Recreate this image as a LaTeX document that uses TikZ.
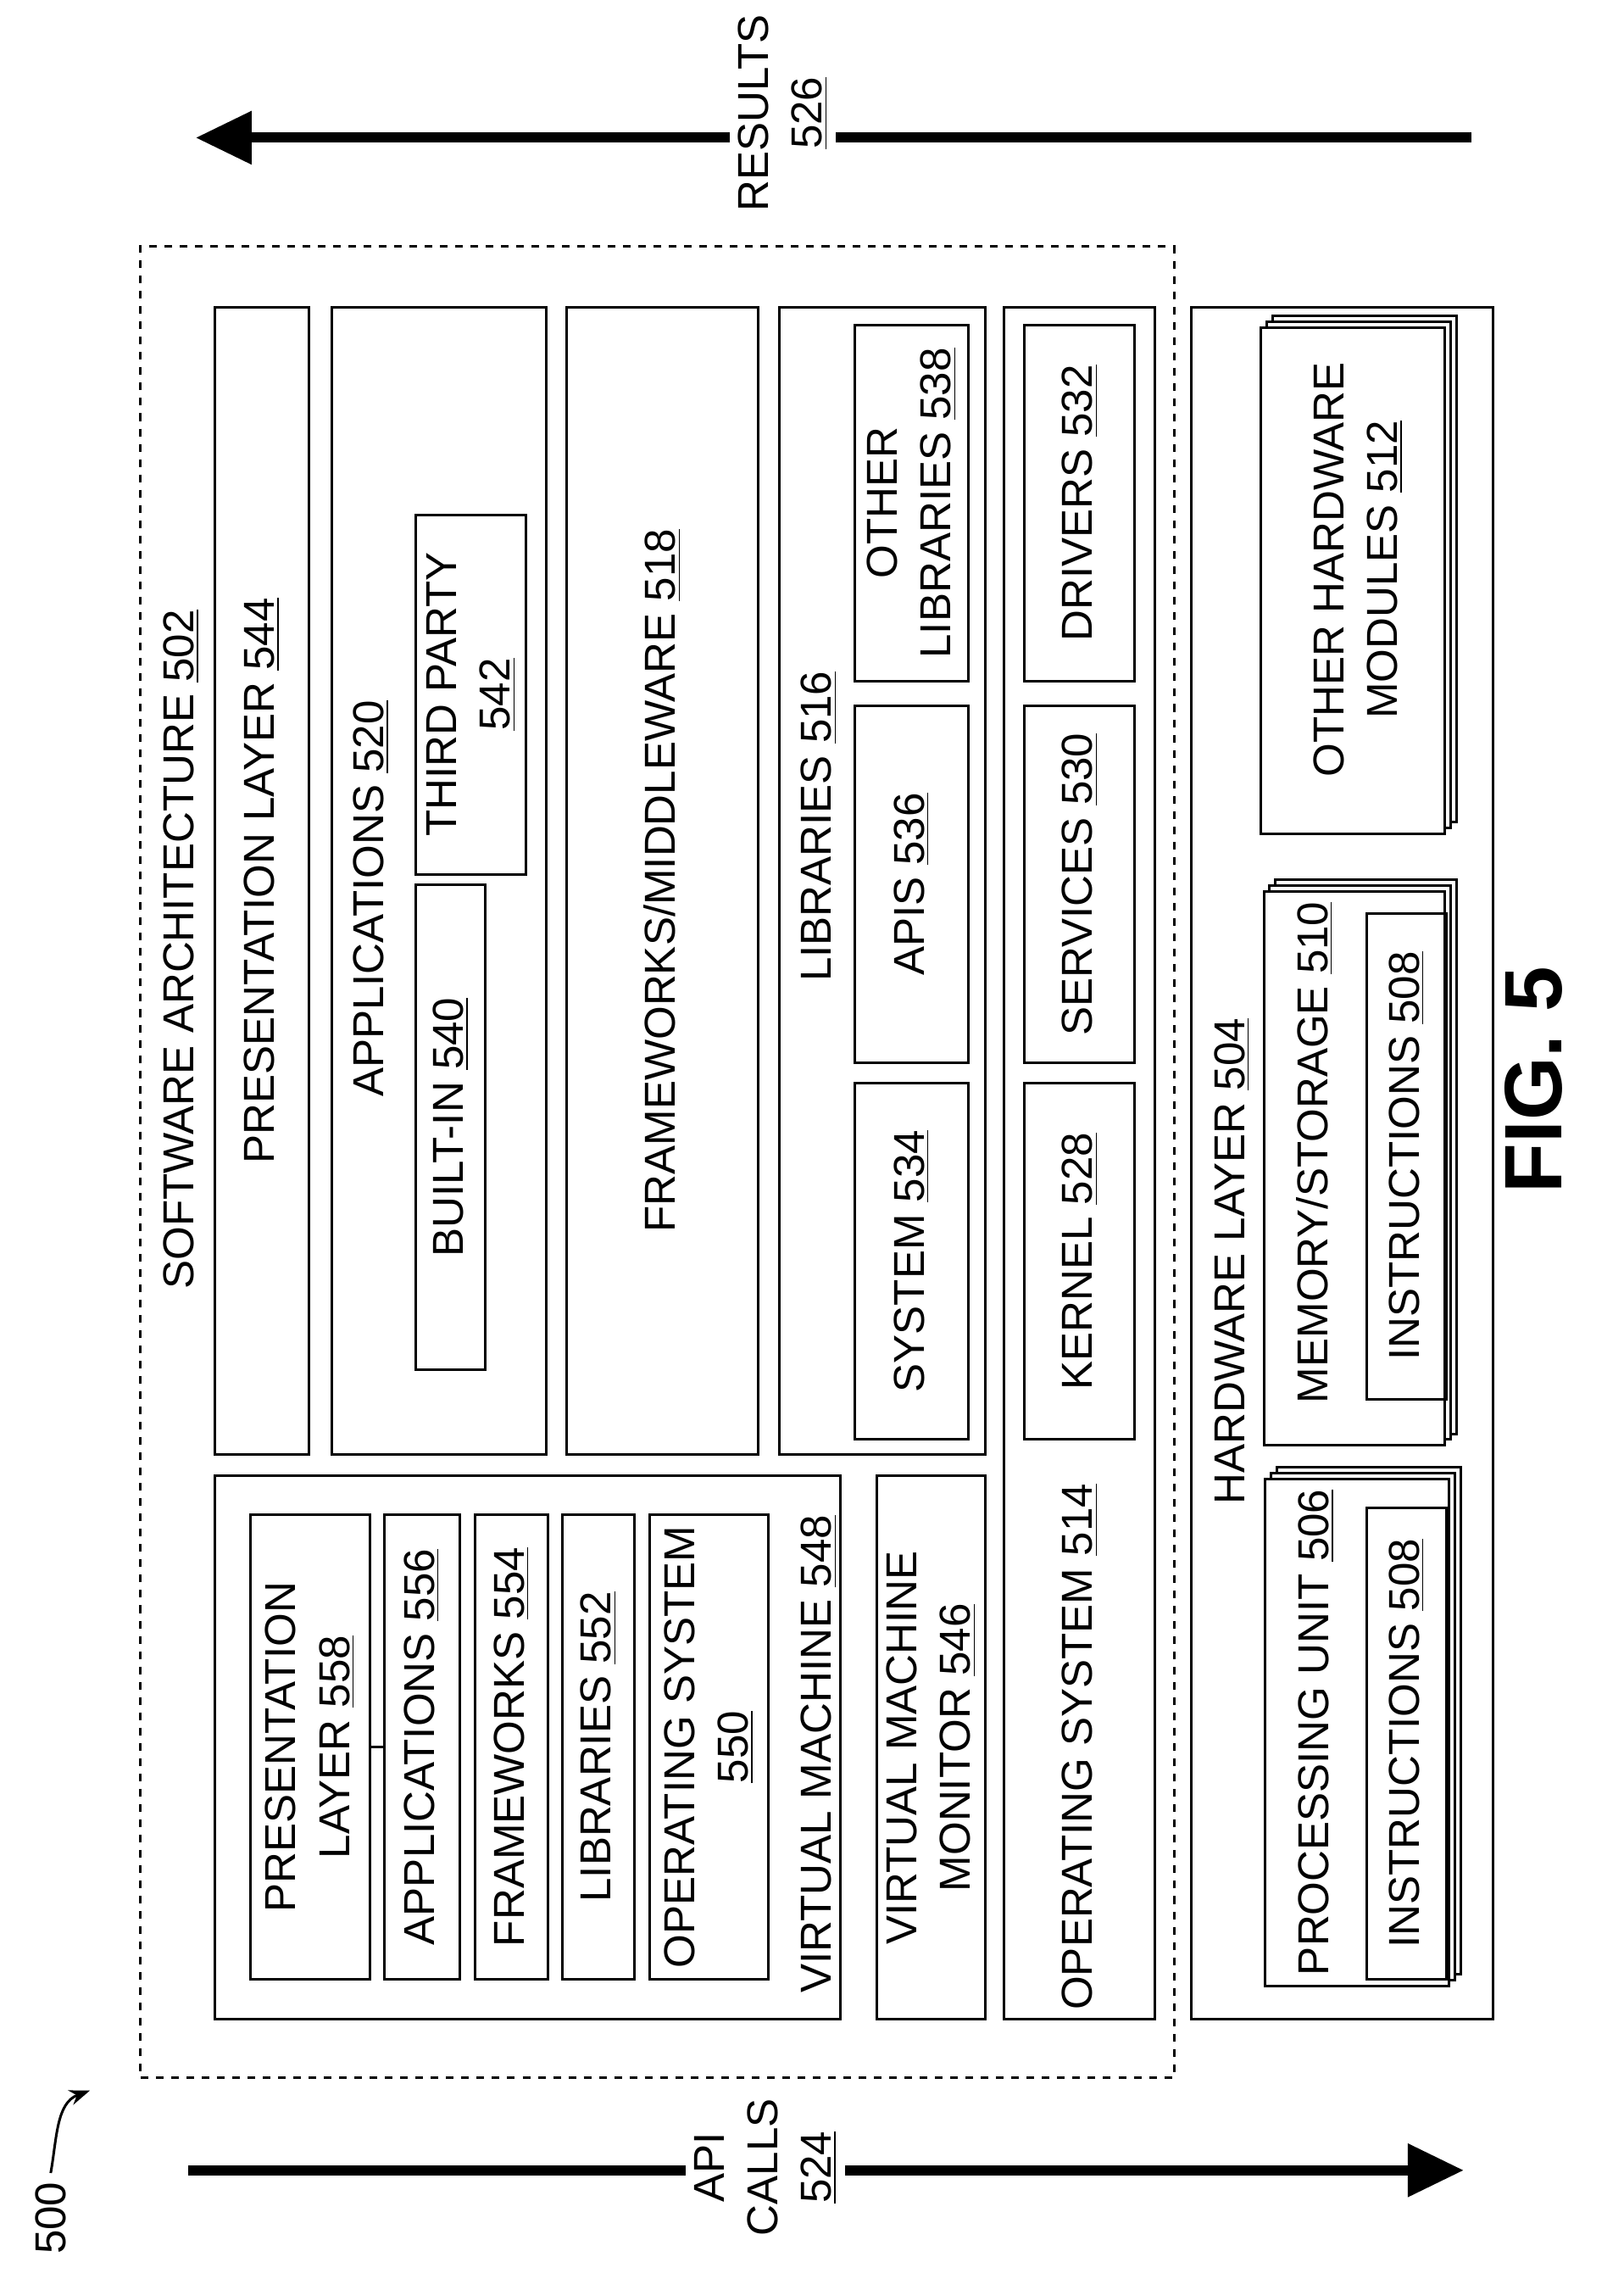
\documentclass[tikz,border=0pt]{standalone}
\usepackage{fontspec}
\setmainfont{Liberation Sans}
\usetikzlibrary{fit,arrows.meta}
\tikzset{
  box/.style={draw, line width=1pt, inner sep=0pt},
  lbl/.style={rotate=90, align=center, font=\fontsize{17}{21}\selectfont},
  stack/.style={draw, line width=1pt, fill=white},
  bigarrow/.style={line width=4pt, -{Triangle[length=22pt,width=20pt]}}
}
\newcommand{\blk}[4][]{\node[box,#1,fit={(#3)(#4)}] (#2) {};}
\newcommand{\ul}[1]{\underline{#1}}
\begin{document}
\begin{tikzpicture}[x=0.02cm,y=-0.02cm]
\useasboundingbox (0,0) rectangle (1120,1572);
% arrows
\coordinate (resR) at (1015,95); \coordinate (resL) at (135,95);
\draw[bigarrow] (resR) -- (resL);
\node[lbl,fill=white,inner xsep=6pt] (results) at (540,78) {RESULTS\\\ul{526}};
\coordinate (apiL) at (130,1497); \coordinate (apiR) at (1010,1497);
\draw[bigarrow] (apiL) -- (apiR);
\node[lbl,fill=white,inner xsep=6pt] (api) at (528,1495) {API\\CALLS\\\ul{524}};
\node[lbl] (fig500) at (35,1530) {500};
\coordinate (tip500) at (62,1442);
\draw[line width=1pt,-{Stealth[length=8pt]}] (fig500.east) to[out=80,in=200] (tip500);
% software architecture
\blk[dashed]{sa}{97,170}{810,1433}
\node[lbl] (salbl) at (125,655) {SOFTWARE ARCHITECTURE \ul{502}};
\blk{pl}{148,212}{213,1003}
\node[lbl] at (pl) {PRESENTATION LAYER \ul{544}};
\blk{app}{229,212}{377,1003}
\node[lbl] at (256,620) {APPLICATIONS \ul{520}};
\blk{bi}{287,610}{335,945}
\node[lbl] at (bi) {BUILT-IN \ul{540}};
\blk{tp}{287,355}{363,603}
\node[lbl] at (tp) {THIRD PARTY\\\ul{542}};
\blk{fw}{391,212}{523,1003}
\node[lbl] at (fw) {FRAMEWORKS/MIDDLEWARE \ul{518}};
\blk{lib}{538,212}{680,1003}
\node[lbl] at (565,570) {LIBRARIES \ul{516}};
\blk{sys}{590,747}{668,993}
\node[lbl] at (sys) {SYSTEM \ul{534}};
\blk{apis}{590,487}{668,733}
\node[lbl] at (apis) {APIS \ul{536}};
\blk{olib}{590,224}{668,470}
\node[lbl] at (olib) {OTHER\\LIBRARIES \ul{538}};
\blk{os}{693,212}{797,1393}
\node[lbl] at (745,1205) {OPERATING SYSTEM \ul{514}};
\blk{ker}{707,747}{783,993}
\node[lbl] at (ker) {KERNEL \ul{528}};
\blk{srv}{707,487}{783,733}
\node[lbl] at (srv) {SERVICES \ul{530}};
\blk{drv}{707,224}{783,470}
\node[lbl] at (drv) {DRIVERS \ul{532}};
% virtual machine
\blk{vm}{148,1018}{580,1393}
\node[lbl] at (565,1210) {VIRTUAL MACHINE \ul{548}};
\blk{vpl}{173,1045}{255,1365}
\node[lbl] at (vpl) {PRESENTATION\\LAYER \ul{558}};
\blk{vapp}{265,1045}{317,1365}
\node[lbl] at (vapp) {APPLICATIONS \ul{556}};
\blk{vfw}{328,1045}{378,1365}
\node[lbl] at (vfw) {FRAMEWORKS \ul{554}};
\blk{vlib}{388,1045}{438,1365}
\node[lbl] at (vlib) {LIBRARIES \ul{552}};
\blk{vos}{448,1045}{530,1365}
\node[lbl] at (vos) {OPERATING SYSTEM\\\ul{550}};
\draw[line width=1pt] (vpl.east) -- (vapp.west);
\blk{vmm}{605,1018}{680,1393}
\node[lbl] at (vmm) {VIRTUAL MACHINE\\MONITOR \ul{546}};
% hardware
\blk{hw}{822,212}{1030,1393}
\node[lbl] at (850,870) {HARDWARE LAYER \ul{504}};
\foreach \d in {8,4,0}{
  \draw[stack] (873+\d,1020-\d) rectangle (1000+\d,1370-\d);
  \draw[stack] (872+\d,615-\d) rectangle (997+\d,997-\d);
  \draw[stack] (870+\d,226-\d) rectangle (997+\d,575-\d);
}
\node[lbl] (pu) at (908,1195) {PROCESSING UNIT \ul{506}};
\blk{ins1}{943,1040}{998,1365}
\node[lbl] at (ins1) {INSTRUCTIONS \ul{508}};
\node[lbl] (mem) at (907,795) {MEMORY/STORAGE \ul{510}};
\blk{ins2}{943,630}{998,965}
\node[lbl] at (ins2) {INSTRUCTIONS \ul{508}};
\node[lbl] (ohm) at (937,393) {OTHER HARDWARE\\MODULES \ul{512}};
\node[rotate=90,font=\bfseries\fontsize{32}{36}\selectfont] (fig) at (1058,745) {FIG. 5};
\end{tikzpicture}
\end{document}
